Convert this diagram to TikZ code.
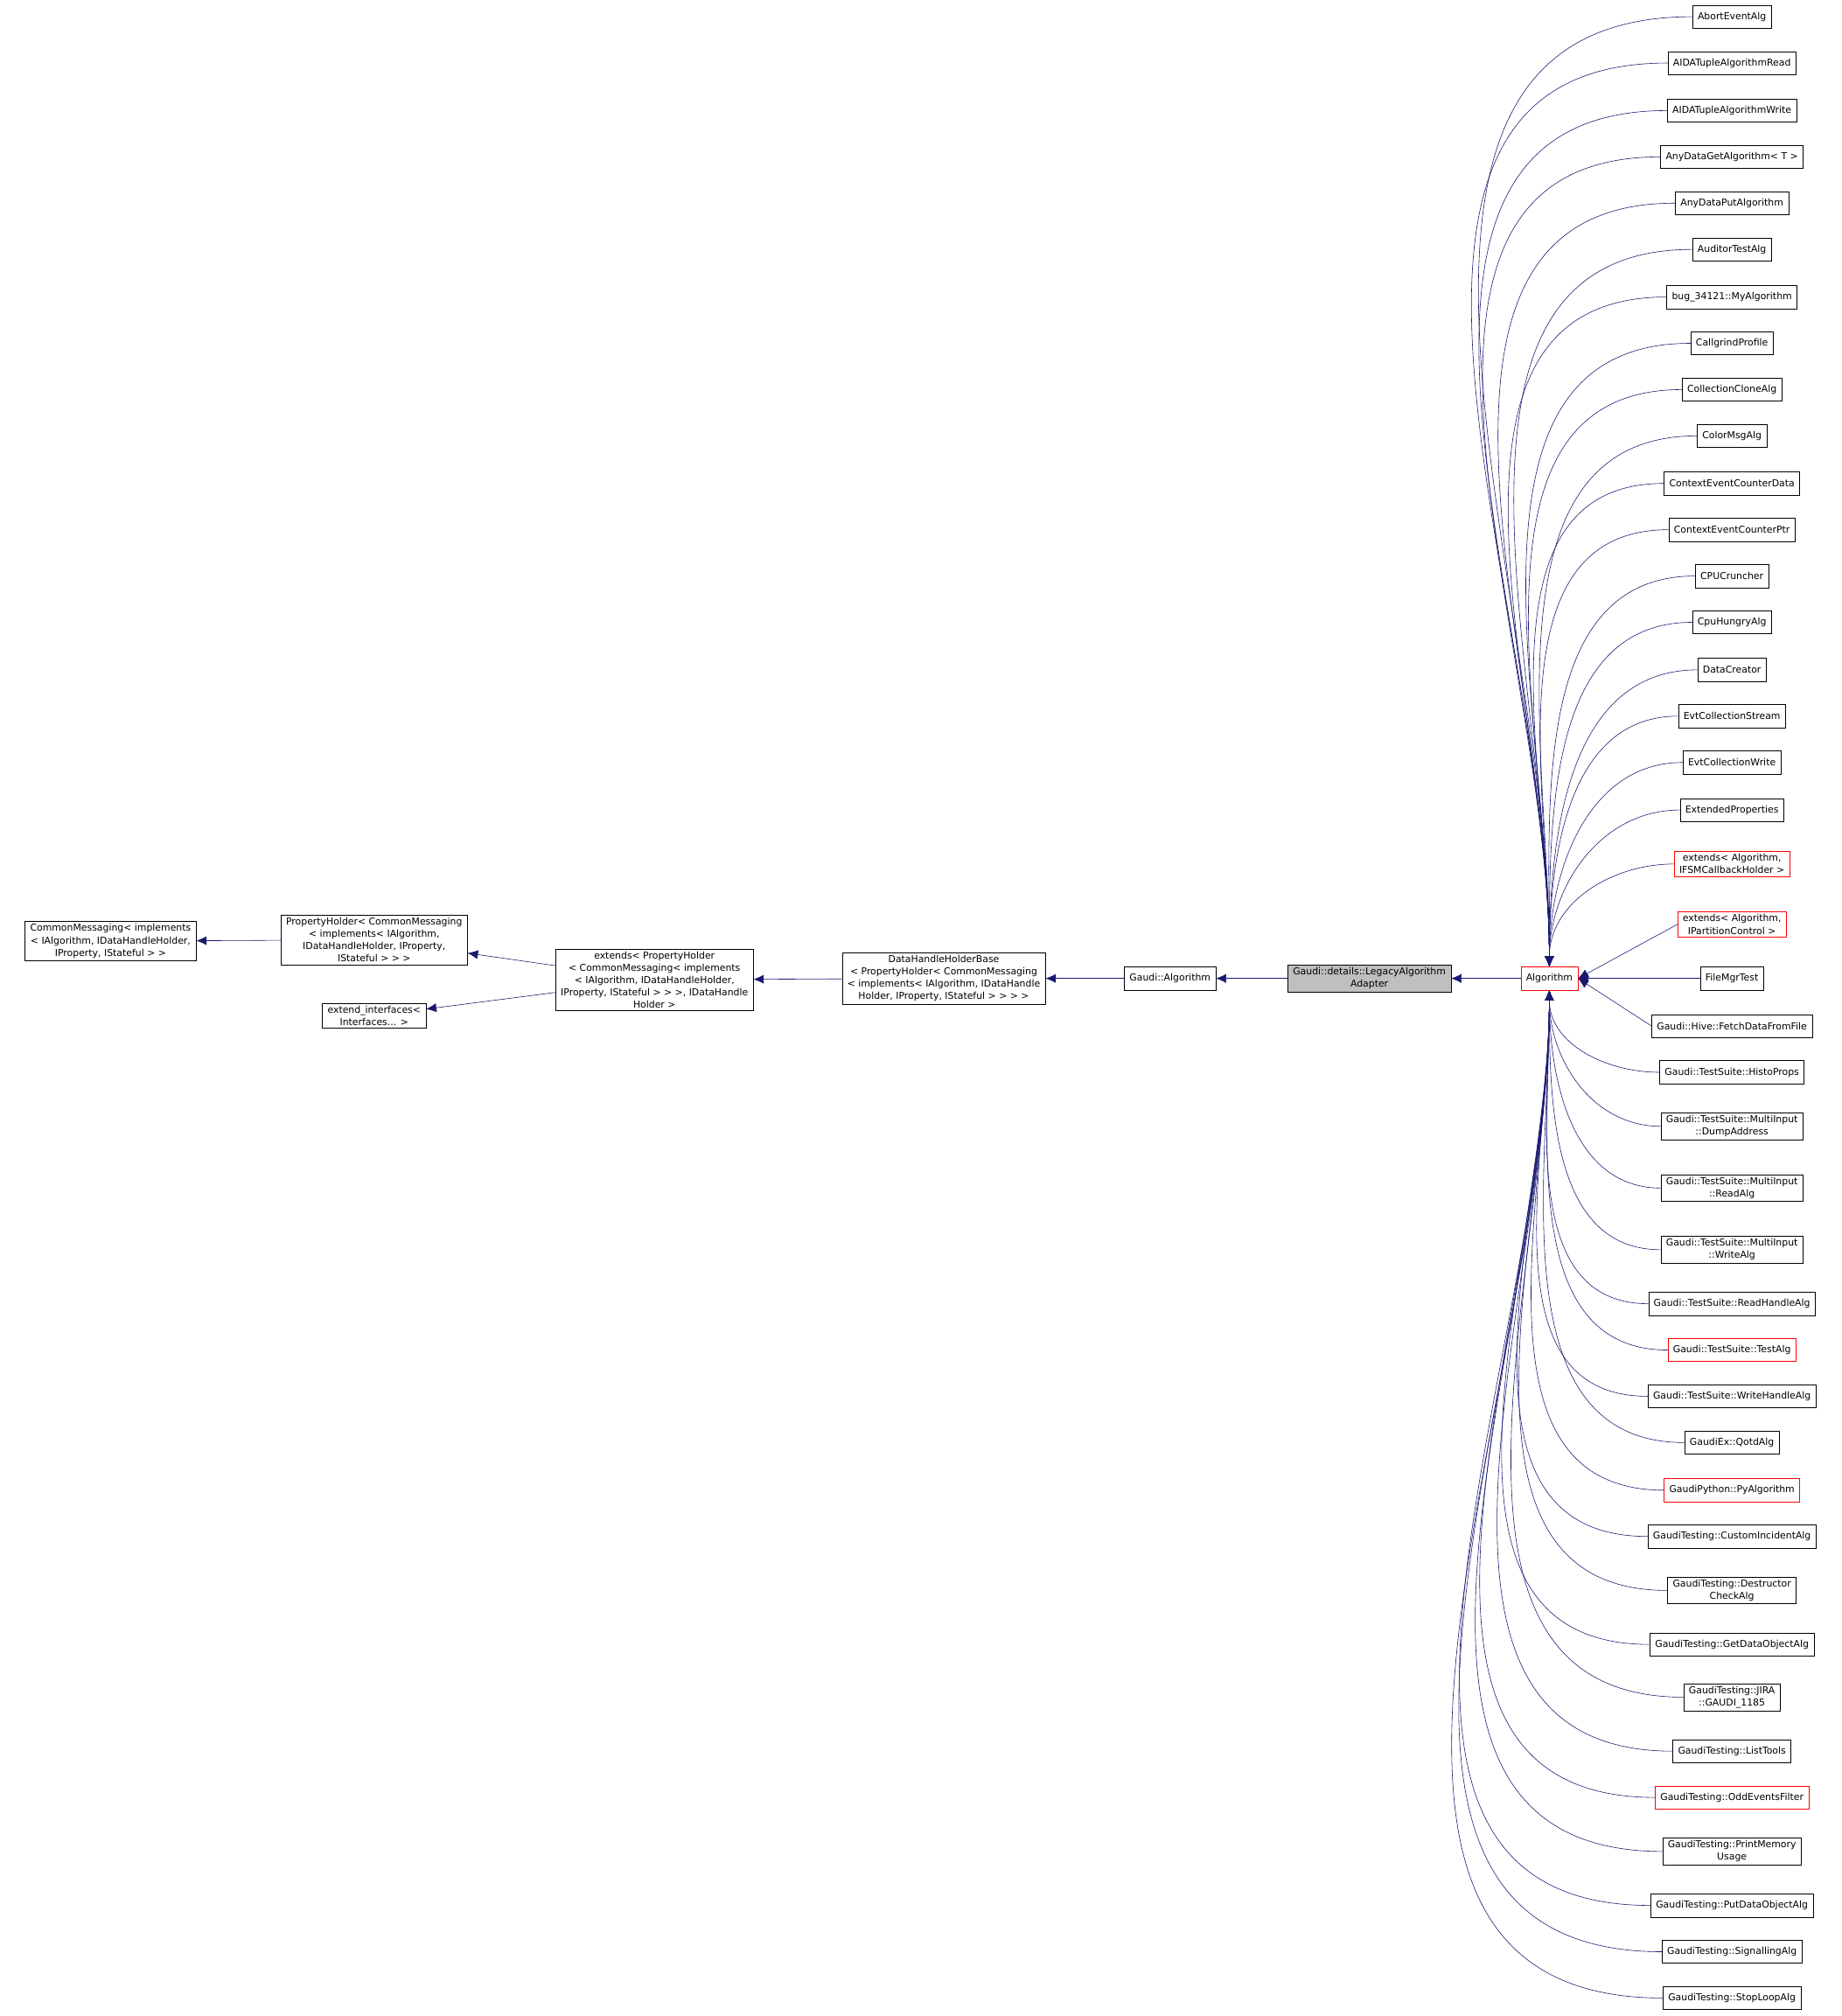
\documentclass[tikz,border=0pt]{standalone}
\usepackage{fontspec}
\setmainfont{DejaVu Sans}
\usetikzlibrary{arrows.meta}
\definecolor{edgeblue}{RGB}{25,25,112}
\definecolor{curgray}{RGB}{191,191,191}
\tikzset{
  cls/.style={draw=black,fill=white,align=center,inner xsep=4pt,inner ysep=2pt,
    minimum height=18pt,font=\fontsize{7.4}{9.6}\selectfont},
  inh/.style={draw=edgeblue,-{Latex[length=8pt,width=7pt]}},
}
\begin{document}
\begin{tikzpicture}[x=1pt,y=-1pt]
\useasboundingbox (0,0) rectangle (1432,1568);
\begin{scope}[every node/.style={cls}]
  \node (cm) at (86,732) {CommonMessaging< implements\\< IAlgorithm, IDataHandleHolder,\\IProperty, IStateful > >};
  \node (ph) at (291,731) {PropertyHolder< CommonMessaging\\< implements< IAlgorithm,\\IDataHandleHolder, IProperty,\\IStateful > > >};
  \node (ei) at (291,790) {extend\_interfaces<\\Interfaces... >};
  \node (ext) at (509,762) {extends< PropertyHolder\\< CommonMessaging< implements\\< IAlgorithm, IDataHandleHolder,\\IProperty, IStateful > > >, IDataHandle\\Holder >};
  \node (dhh) at (734,761) {DataHandleHolderBase\\< PropertyHolder< CommonMessaging\\< implements< IAlgorithm, IDataHandle\\Holder, IProperty, IStateful > > > >};
  \node (galg) at (910,761) {Gaudi::Algorithm};
  \node[fill=curgray] (lga) at (1065,761) {Gaudi::details::LegacyAlgorithm\\Adapter};
  \node[draw=red] (alg) at (1205,761) {Algorithm};
\end{scope}
\draw[inh] (ph) -- (cm);
\draw[inh] (ext) -- (ph);
\draw[inh] (ext) -- (ei);
\draw[inh] (dhh) -- (ext);
\draw[inh] (galg) -- (dhh);
\draw[inh] (lga) -- (galg);
\draw[inh] (alg) -- (lga);
% derived classes
\foreach \y/\t/\c [count=\i] in {
  13/AbortEventAlg/black, 49/AIDATupleAlgorithmRead/black, 86/AIDATupleAlgorithmWrite/black,
  122/{AnyDataGetAlgorithm< T >}/black, 158/AnyDataPutAlgorithm/black, 194/AuditorTestAlg/black,
  231/bug\_34121::MyAlgorithm/black, 267/CallgrindProfile/black, 303/CollectionCloneAlg/black,
  339/ColorMsgAlg/black, 376/ContextEventCounterData/black, 412/ContextEventCounterPtr/black,
  448/CPUCruncher/black, 484/CpuHungryAlg/black, 521/DataCreator/black,
  557/EvtCollectionStream/black, 593/EvtCollectionWrite/black, 630/ExtendedProperties/black,
  672/{extends< Algorithm,\\IFSMCallbackHolder >}/red, 719/{extends< Algorithm,\\IPartitionControl >}/red,
  761/FileMgrTest/black, 798/Gaudi::Hive::FetchDataFromFile/black, 834/Gaudi::TestSuite::HistoProps/black,
  876/{Gaudi::TestSuite::MultiInput\\::DumpAddress}/black, 924/{Gaudi::TestSuite::MultiInput\\::ReadAlg}/black,
  972/{Gaudi::TestSuite::MultiInput\\::WriteAlg}/black, 1014/Gaudi::TestSuite::ReadHandleAlg/black,
  1050/Gaudi::TestSuite::TestAlg/red, 1086/Gaudi::TestSuite::WriteHandleAlg/black,
  1122/GaudiEx::QotdAlg/black, 1159/GaudiPython::PyAlgorithm/red, 1195/GaudiTesting::CustomIncidentAlg/black,
  1237/{GaudiTesting::Destructor\\CheckAlg}/black, 1279/GaudiTesting::GetDataObjectAlg/black,
  1320/{GaudiTesting::JIRA\\::GAUDI\_1185}/black, 1362/GaudiTesting::ListTools/black,
  1398/GaudiTesting::OddEventsFilter/red, 1440/{GaudiTesting::PrintMemory\\Usage}/black,
  1482/GaudiTesting::PutDataObjectAlg/black, 1518/GaudiTesting::SignallingAlg/black,
  1554/GaudiTesting::StopLoopAlg/black}{
  \node[cls,draw=\c] (d\i) at (1347,\y) {\t};
  \ifnum\y<700
    \draw[inh] (d\i.west) to[out=180,in=90] (alg.north);
  \else\ifnum\y>820
    \draw[inh] (d\i.west) to[out=180,in=-90] (alg.south);
  \else
    \draw[inh] (d\i.west) -- (alg.east);
  \fi\fi
}
\end{tikzpicture}
\end{document}
